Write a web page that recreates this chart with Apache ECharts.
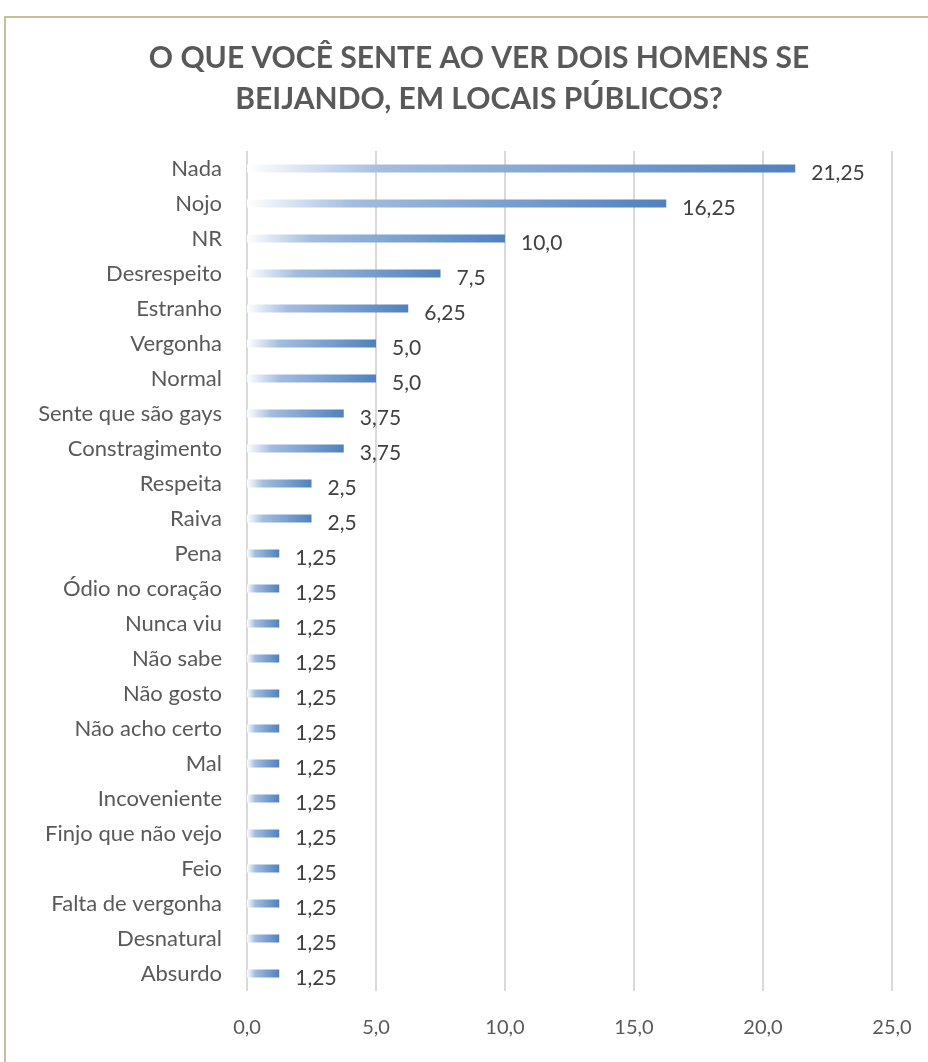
<!DOCTYPE html>
<html lang="pt">
<head>
    <meta charset="UTF-8">
    <title>O que você sente</title>
    <style type="text/css">
        body {
            margin: 0;
            background: #fff;
        }
        .frame {
            position: absolute;
            left: 4px;
            top: 16px;
            width: 1000px;
            height: 1100px;
            border-left: 2px solid #c9bf97;
            border-top: 2px solid #c9bf97;
        }
        #chart {
            position: absolute;
            left: 0;
            top: 0;
            width: 928px;
            height: 1062px;
        }
    </style>
    <script type="text/javascript" src="https://cdn.jsdelivr.net/npm/echarts@6/dist/echarts.min.js"></script>
</head>
<body>
    <div class="frame"></div>
    <div id="chart"></div>
<script type="text/javascript">
    var categories = ['Nada', 'Nojo', 'NR', 'Desrespeito', 'Estranho', 'Vergonha', 'Normal',
        'Sente que são gays', 'Constragimento', 'Respeita', 'Raiva', 'Pena', 'Ódio no coração',
        'Nunca viu', 'Não sabe', 'Não gosto', 'Não acho certo', 'Mal', 'Incoveniente',
        'Finjo que não vejo', 'Feio', 'Falta de vergonha', 'Desnatural', 'Absurdo'];
    var values = [21.25, 16.25, 10.0, 7.5, 6.25, 5.0, 5.0, 3.75, 3.75, 2.5, 2.5,
        1.25, 1.25, 1.25, 1.25, 1.25, 1.25, 1.25, 1.25, 1.25, 1.25, 1.25, 1.25, 1.25];
    var titleLines = ['O QUE VOCÊ SENTE AO VER DOIS HOMENS SE', 'BEIJANDO, EM LOCAIS PÚBLICOS?'];

    function ptNum(v){
        var s = (v % 1 === 0) ? v.toFixed(1) : String(v);
        return s.replace('.', ',');
    }

    var chart = echarts.init(document.getElementById('chart'));
    var fontName = 'Lato';
    var option = {
        animation: false,
        title: {
            text: titleLines.join('\n'),
            left: 474,
            textAlign: 'center',
            top: 33,
            textStyle: {
                fontFamily: fontName,
                fontWeight: 'bold',
                fontSize: 30,
                lineHeight: 41,
                color: '#595959'
            }
        },
        grid: {
            left: 247,
            right: 36,
            top: 151,
            bottom: 71
        },
        xAxis: {
            type: 'value',
            min: 0,
            max: 25,
            interval: 5,
            axisLine: { show: false },
            axisTick: { show: false },
            splitLine: {
                lineStyle: { color: '#d9d9d9', width: 2 }
            },
            axisLabel: {
                margin: 27,
                fontFamily: fontName,
                fontSize: 20,
                color: '#595959',
                formatter: function (v){ return ptNum(v); }
            }
        },
        yAxis: {
            type: 'category',
            inverse: true,
            data: categories,
            axisLine: { show: false },
            axisTick: { show: false },
            axisLabel: {
                margin: 25,
                padding: [0, 0, 8, 0],
                fontFamily: fontName,
                fontSize: 22,
                color: '#595959'
            }
        },
        series: [{
            type: 'bar',
            data: values,
            barWidth: 8,
            itemStyle: {
                color: {
                    type: 'linear',
                    x: 0, y: 0, x2: 1, y2: 0,
                    colorStops: [
                        { offset: 0, color: '#ffffff' },
                        { offset: 0.25, color: '#a3bddf' },
                        { offset: 1, color: '#4f81bd' }
                    ]
                }
            },
            label: {
                show: true,
                position: 'right',
                distance: 16,
                offset: [0, 5],
                fontFamily: fontName,
                fontSize: 21,
                color: '#404040',
                formatter: function (p){ return ptNum(p.value); }
            }
        }]
    };
    chart.setOption(option);
</script>
</body>
</html>
